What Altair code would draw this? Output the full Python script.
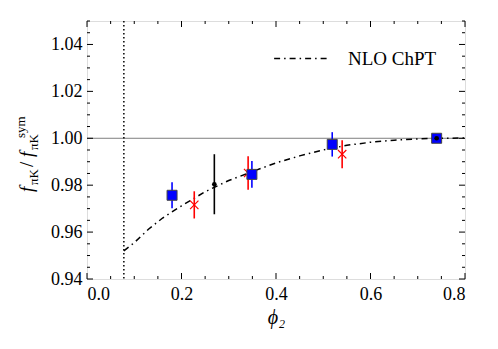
import altair as alt
import pandas as pd

# ---- data ----
blue_x = [0.18, 0.349, 0.519, 0.740]
blue_y = [0.9757, 0.9846, 0.9974, 1.0000]
blue_err = [0.0055, 0.0057, 0.0052, 0.0]

red_x = [0.227, 0.341, 0.540]
red_y = [0.9716, 0.9852, 0.9932]
red_err = [0.0058, 0.0071, 0.0060]

black_x = [0.2695, 0.740]
black_y = [0.9804, 1.0000]
black_err = [0.0128, 0.0]

curve_x = [0.078, 0.10, 0.13, 0.16, 0.20, 0.25, 0.30, 0.35, 0.40, 0.45,
           0.50, 0.55, 0.60, 0.65, 0.70, 0.74, 0.80]
curve_y = [0.9520, 0.9555, 0.9612, 0.9660, 0.9712, 0.9772, 0.9820, 0.9858, 0.9895, 0.9925,
           0.9950, 0.9970, 0.9983, 0.9992, 0.9997, 1.0000, 1.0001]

vline_x = [0.078]
hline_y = [1.0]

x_major = [0.0, 0.2, 0.4, 0.6, 0.8]
x_minor = [0.05, 0.1, 0.15, 0.25, 0.3, 0.35, 0.45, 0.5, 0.55, 0.65, 0.7, 0.75]
y_major = [0.94, 0.96, 0.98, 1.00, 1.02, 1.04]
y_minor = [0.945, 0.95, 0.955, 0.965, 0.97, 0.975, 0.985, 0.99, 0.995,
           1.005, 1.01, 1.015, 1.025, 1.03, 1.035, 1.045, 1.05]

W, H = 378, 258
FONT = "'Liberation Serif', 'DejaVu Serif', serif"

xs = alt.Scale(domain=[0, 0.8], nice=False, zero=False)
ys = alt.Scale(domain=[0.94, 1.05], nice=False, zero=False)

def pts(xv, yv, ev):
    return pd.DataFrame({"x": xv, "y": yv, "lo": [a - b for a, b in zip(yv, ev)],
                         "hi": [a + b for a, b in zip(yv, ev)]})

dblue = pts(blue_x, blue_y, blue_err)
dred = pts(red_x, red_y, red_err)
dblack = pts(black_x, black_y, black_err)
dcurve = pd.DataFrame({"x": curve_x, "y": curve_y, "s": ["NLO ChPT"] * len(curve_x)})

base_x = alt.X("x:Q", scale=xs, axis=alt.Axis(values=x_major, format=".1f", title="ϕ₂",
                                             ticks=False, domain=False, grid=False,
                                             labelFont=FONT, labelFontSize=18, labelPadding=6,
                                             labelColor="black",
                                             titleFont=FONT, titleFontSize=20,
                                             titleFontStyle="italic", titleFontWeight="normal",
                                             titlePadding=4, titleColor="black"))
base_y = alt.Y("y:Q", scale=ys, axis=alt.Axis(values=y_major, format=".2f", title=None,
                                             ticks=False, domain=False, grid=False,
                                             labelFont=FONT, labelFontSize=18, labelPadding=5,
                                             labelColor="black"))

hline = alt.Chart(pd.DataFrame({"y": hline_y})).mark_rule(color="#7f7f7f", strokeWidth=1).encode(
    y=alt.Y("y:Q", scale=ys))
vline = alt.Chart(pd.DataFrame({"x": vline_x})).mark_rule(
    color="black", strokeWidth=1.5, strokeDash=[1.5, 2.5]).encode(x=alt.X("x:Q", scale=xs))

curve = alt.Chart(dcurve).mark_line(strokeWidth=1.5, strokeDash=[6, 4, 1.5, 4]).encode(
    x=base_x, y=base_y,
    color=alt.Color("s:N", scale=alt.Scale(range=["black"]),
                    legend=alt.Legend(orient="none", legendX=186, legendY=9, title=None,
                                      symbolType="stroke", symbolSize=3000,
                                      symbolStrokeWidth=1.5, symbolDash=[6, 4, 1.5, 4],
                                      labelFont=FONT, labelFontSize=19, labelOffset=18,
                                      labelColor="black", padding=0)))

def errbars(df, color):
    return alt.Chart(df).mark_rule(color=color, strokeWidth=1.6).encode(
        x=alt.X("x:Q", scale=xs), y=alt.Y("lo:Q", scale=ys), y2="hi:Q")

red_eb = errbars(dred, "#ff0000")
red_pt = alt.Chart(dred).mark_point(shape="M-1,-1L1,1M-1,1L1,-1", size=70, color="#ff0000",
                                    filled=False, strokeWidth=1.2, opacity=1).encode(
    x=alt.X("x:Q", scale=xs), y=alt.Y("y:Q", scale=ys))
blue_eb = errbars(dblue, "#0000ff")
blue_pt = alt.Chart(dblue).mark_square(size=100, fill="#0000ff", stroke="#444444",
                                       strokeWidth=1, opacity=1).encode(
    x=alt.X("x:Q", scale=xs), y=alt.Y("y:Q", scale=ys))
black_eb = errbars(dblack, "black")
black_pt = alt.Chart(dblack).mark_circle(size=22, color="black", opacity=1).encode(
    x=alt.X("x:Q", scale=xs), y=alt.Y("y:Q", scale=ys))

def xticks(vals, length, top):
    y1 = 0 if top else H
    y2 = length if top else H - length
    return alt.Chart(pd.DataFrame({"x": vals})).mark_rule(color="black", strokeWidth=1).encode(
        x=alt.X("x:Q", scale=xs), y=alt.value(y1), y2=alt.value(y2))

def yticks(vals, length, right):
    x1 = W if right else 0
    x2 = W - length if right else length
    return alt.Chart(pd.DataFrame({"y": vals})).mark_rule(color="black", strokeWidth=1).encode(
        y=alt.Y("y:Q", scale=ys), x=alt.value(x1), x2=alt.value(x2))

ticks = [xticks(x_major, 6, False), xticks(x_minor, 3, False),
         xticks(x_major, 6, True), xticks(x_minor, 3, True),
         yticks(y_major, 6, False), yticks(y_minor, 3, False),
         yticks(y_major, 6, True), yticks(y_minor, 3, True)]

# y-axis title built from pieces (sub/superscripts)
def tpiece(txt, xpos, ypos, size, italic=False):
    kw = dict(text=txt, angle=270, align="left", baseline="alphabetic", font=FONT,
              fontSize=size, color="black")
    if italic:
        kw["fontStyle"] = "italic"
    return alt.Chart(pd.DataFrame({"a": [0]})).mark_text(**kw).encode(
        x=alt.value(xpos), y=alt.value(ypos))

ytitle = [tpiece("f", -54, 171, 19, True), tpiece("πK", -49, 164, 13),
          tpiece("/", -54, 146, 19), tpiece("f", -54, 136, 19, True),
          tpiece("πK", -49, 129, 13), tpiece("sym", -62, 117, 13)]

chart = alt.layer(hline, vline, curve, red_eb, red_pt, blue_eb, blue_pt, black_eb, black_pt,
                  *ticks, *ytitle).properties(
    width=W, height=H, autosize="none",
    padding={"left": 79, "top": 13, "right": 25, "bottom": 50}
).configure_view(stroke="black", strokeWidth=1.3).configure(background="white")

chart.save("out.html", embed_options={"renderer": "svg", "actions": False})
